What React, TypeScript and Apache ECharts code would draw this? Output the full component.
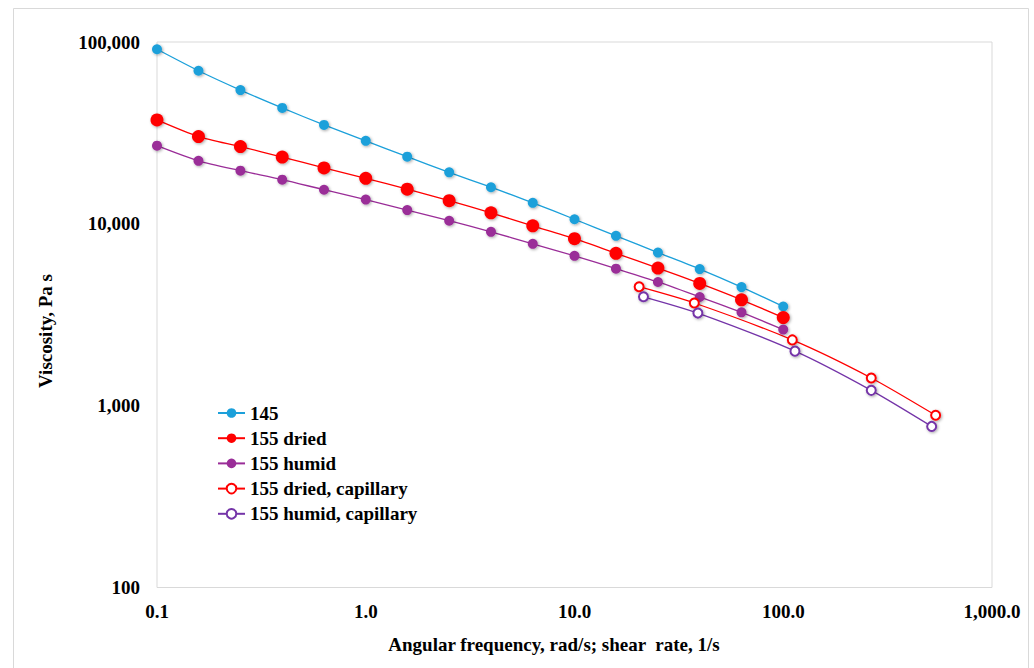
import React, { useEffect, useRef } from "react";
import * as echarts from "echarts";

const freq = [0.1, 0.158, 0.251, 0.398, 0.631, 1, 1.58, 2.51, 3.98, 6.31, 10, 15.8, 25.1, 39.8, 63.1, 100];
const visc145 = [91200, 69500, 54400, 43400, 35000, 28600, 23400, 19200, 15900, 13050, 10600, 8590, 6950, 5640, 4490, 3510];
const viscDried = [37300, 30200, 26600, 23300, 20300, 17800, 15500, 13400, 11500, 9750, 8280, 6880, 5710, 4700, 3820, 3050];
const viscHumid = [26900, 22200, 19600, 17500, 15400, 13600, 11900, 10400, 9040, 7760, 6670, 5670, 4790, 3960, 3260, 2620];
const capDriedRate = [20.4, 37.5, 110.5, 264, 537];
const capDriedVisc = [4510, 3670, 2300, 1420, 885];
const capHumidRate = [21.4, 39.0, 113.8, 264, 514];
const capHumidVisc = [3970, 3230, 1995, 1214, 769];

const seriesNames = ["145", "155 dried", "155 humid", "155 dried, capillary", "155 humid, capillary"];
const xTitle = "Angular frequency, rad/s; shear  rate, 1/s";
const yTitle = "Viscosity, Pa s";

const FONT = "'Liberation Serif', 'Times New Roman', serif";

const pairs = (xs: number[], ys: number[]) => xs.map((x, i) => [x, ys[i]]);

export default function App() {
  const ref = useRef<HTMLDivElement>(null);
  useEffect(() => {
    if (!ref.current) return;
    const chart = echarts.init(ref.current, undefined, { renderer: "svg" });
    const shadow = {
      shadowBlur: 3,
      shadowColor: "rgba(0,0,0,0.35)",
      shadowOffsetX: 1,
      shadowOffsetY: 1,
    };
    const mk = (
      name: string,
      data: number[][],
      color: string,
      symbol: string,
      size: number
    ) => ({
      name,
      type: "line",
      data,
      smooth: 0.25,
      symbol,
      symbolSize: size,
      showSymbol: true,
      lineStyle: { color, width: 1.3 },
      itemStyle: {
        color: color,
        borderColor: color,
        borderWidth: symbol === "emptyCircle" ? 1.3 : 0,
        ...shadow,
      },
      z: 3,
    });
    chart.setOption({
      animation: false,
      backgroundColor: "#ffffff",
      textStyle: { fontFamily: FONT },
      grid: { left: 157, right: 42, top: 42, bottom: 80.5, show: true, borderColor: "#d9d9d9", borderWidth: 1 },
      legend: {
        orient: "vertical",
        left: 217,
        top: 403.5,
        padding: 0,
        itemWidth: 27,
        itemHeight: 12,
        itemGap: 6.2,
        data: seriesNames,
        textStyle: { fontFamily: FONT, fontWeight: "bold", fontSize: 19, color: "#000", lineHeight: 19 },
      },
      xAxis: {
        type: "log",
        logBase: 10,
        min: 0.1,
        max: 1000,
        axisLine: { show: false },
        axisTick: { show: false },
        splitLine: { show: false },
        minorTick: { show: false },
        axisLabel: {
          margin: 14,
          fontFamily: FONT,
          fontWeight: "bold",
          fontSize: 19,
          color: "#000",
          formatter: (v: number) =>
            v.toLocaleString("en-US", { minimumFractionDigits: 1, maximumFractionDigits: 1 }),
        },
      },
      yAxis: {
        type: "log",
        logBase: 10,
        min: 100,
        max: 100000,
        axisLine: { show: false },
        axisTick: { show: false },
        splitLine: { show: false },
        minorTick: { show: false },
        axisLabel: {
          margin: 17,
          fontFamily: FONT,
          fontWeight: "bold",
          fontSize: 19,
          color: "#000",
          formatter: (v: number) => Math.round(v).toLocaleString("en-US"),
        },
      },
      graphic: [
        {
          type: "rect",
          shape: { x: 13.5, y: 8.5, width: 1015, height: 700 },
          style: { fill: "none", stroke: "#d9d9d9", lineWidth: 1 },
          silent: true,
          z: -10,
        },
        {
          type: "text",
          x: 554,
          y: 644,
          style: {
            text: xTitle,
            fontFamily: FONT,
            fontWeight: "bold",
            fontSize: 19,
            fill: "#000",
            align: "center",
            verticalAlign: "middle",
          },
        },
        {
          type: "text",
          x: 45,
          y: 331,
          rotation: Math.PI / 2,
          style: {
            text: yTitle,
            fontFamily: FONT,
            fontWeight: "bold",
            fontSize: 19,
            fill: "#000",
            align: "center",
            verticalAlign: "middle",
          },
        },
      ],
      series: [
        mk(seriesNames[0], pairs(freq, visc145), "#1CA0DA", "circle", 10),
        mk(seriesNames[1], pairs(freq, viscDried), "#FF0000", "circle", 13),
        mk(seriesNames[2], pairs(freq, viscHumid), "#9A2D98", "circle", 10),
        mk(seriesNames[3], pairs(capDriedRate, capDriedVisc), "#FF0000", "emptyCircle", 9),
        mk(seriesNames[4], pairs(capHumidRate, capHumidVisc), "#7434A8", "emptyCircle", 9),
      ],
    });
    return () => chart.dispose();
  }, []);
  return (
    <div
      ref={ref}
      style={{ position: "absolute", left: 0, top: 0, width: 1034, height: 668 }}
    />
  );
}
